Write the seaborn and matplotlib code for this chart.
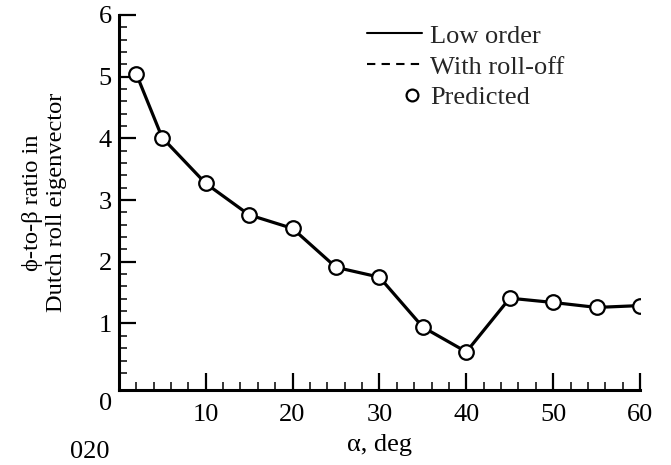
import matplotlib
matplotlib.use("Agg")
import numpy as np
import matplotlib.pyplot as plt
from matplotlib.lines import Line2D
from matplotlib.legend_handler import HandlerLine2D
from matplotlib.ticker import MultipleLocator
from matplotlib.transforms import ScaledTranslation
import seaborn as sns
import pandas as pd

alpha_deg = [2, 5, 10, 15, 20, 25, 30, 35, 40, 45, 50, 55, 60]
ratio = [5.05, 4.01, 3.27, 2.76, 2.54, 1.91, 1.75, 0.94, 0.54, 1.41, 1.34, 1.26, 1.29]
x_ticks = [10, 20, 30, 40, 50, 60]
y_ticks = [0, 1, 2, 3, 4, 5, 6]
legend_labels = ["Low order", "With roll-off", "Predicted"]

sns.set_theme(style="ticks")
plt.rcParams["font.family"] = ["Liberation Serif", "DejaVu Serif"]

FS = 19

df = pd.DataFrame({"alpha": alpha_deg, "ratio": ratio})

fig = plt.figure(figsize=(6.71, 4.65), dpi=100)
ax = fig.add_axes([0.177, 0.161, 0.777, 0.807])

sns.lineplot(data=df, x="alpha", y="ratio", ax=ax, color="black", linewidth=2.3,
             marker="o", markersize=10.5, markerfacecolor="white",
             markeredgecolor="black", markeredgewidth=1.6, zorder=3)

ax.set_xlim(0, 60)
ax.set_ylim(-0.08, 6)
ax.set_xticks(x_ticks)
ax.set_yticks(y_ticks)
ax.xaxis.set_minor_locator(MultipleLocator(2))
ax.yaxis.set_minor_locator(MultipleLocator(0.2))
ax.tick_params(axis="both", which="major", direction="in", length=12, width=1.6,
               labelsize=FS, colors="black")
ax.tick_params(axis="x", which="major", pad=10)
ax.tick_params(axis="y", which="major", pad=5)
ax.tick_params(axis="both", which="minor", direction="in", length=6, width=1.3)
for side in ["top", "right"]:
    ax.spines[side].set_visible(False)
for side in ["left", "bottom"]:
    ax.spines[side].set_linewidth(2.2)
    ax.spines[side].set_color("black")

# shift the "0" y label down, as in the reference, and hide its tick mark
fig.canvas.draw()
ax.yaxis.get_major_ticks()[0].tick1line.set_visible(False)
lab0 = ax.get_yticklabels()[0]
lab0.set_transform(lab0.get_transform() + ScaledTranslation(0, -12 / 72, fig.dpi_scale_trans))

ax.set_xlabel("α, deg", fontsize=FS, color="black", labelpad=6)
ax.set_ylabel("ϕ-to-β ratio in\nDutch roll eigenvector", fontsize=17.6, color="black",
              labelpad=23, linespacing=1.15)


class RightMarkerHandler(HandlerLine2D):
    def create_artists(self, legend, orig_handle, xdescent, ydescent, width, height,
                       fontsize, trans):
        artists = super().create_artists(legend, orig_handle, xdescent, ydescent, width,
                                         height, fontsize, trans)
        for a in artists:
            xd = np.asarray(a.get_xdata(), dtype=float)
            a.set_xdata(np.full_like(xd, width - xdescent - 0.4 * fontsize))
        return artists


pred_handle = Line2D([], [], color="black", linestyle="none", marker="o", markersize=8.5,
                     markerfacecolor="white", markeredgewidth=1.6)
handles = [
    Line2D([], [], color="black", linewidth=1.5, linestyle="-"),
    Line2D([], [], color="black", linewidth=1.5, linestyle=(0, (4, 3))),
    pred_handle,
]
leg = ax.legend(handles, legend_labels, loc="upper left", bbox_to_anchor=(0.547, 0.948),
                bbox_transform=fig.transFigure, frameon=False, fontsize=FS,
                handlelength=2.1, handletextpad=0.3, labelspacing=0.28,
                borderpad=0, borderaxespad=0, numpoints=1,
                handler_map={pred_handle: RightMarkerHandler()})

fig.text(0.105, 0.004, "020", fontsize=FS, color="black", va="bottom")

fig.savefig("out.png", dpi=100)
